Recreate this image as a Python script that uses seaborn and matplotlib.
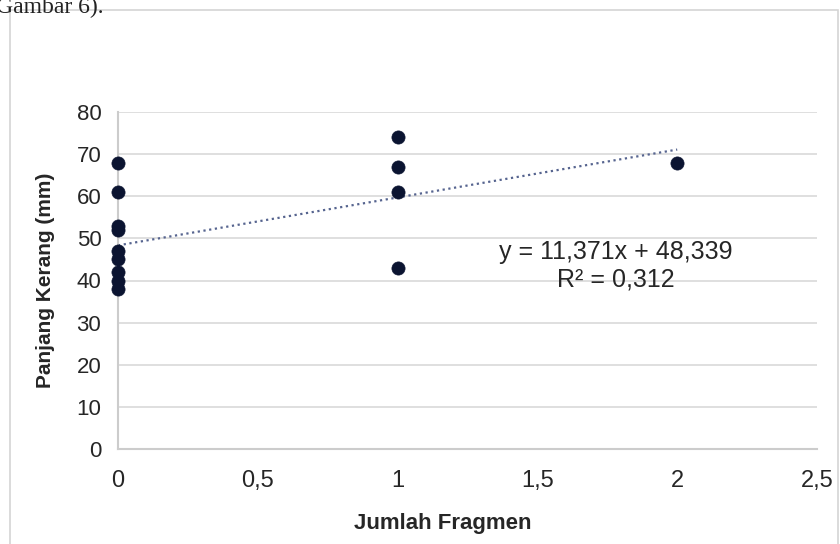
import numpy as np
import pandas as pd
import seaborn as sns
import matplotlib
matplotlib.use('Agg')
import matplotlib.pyplot as plt
from matplotlib.patches import Rectangle

# data
fragmen = [0, 0, 0, 0, 0, 0, 0, 0, 0, 1, 1, 1, 1, 2]
panjang = [68, 61, 53, 52, 47, 45, 42, 40, 38, 74, 67, 61, 43, 68]
slope = 11.371
intercept = 48.339
r2 = 0.312
xticks = [0, 0.5, 1, 1.5, 2, 2.5]
yticks = [0, 10, 20, 30, 40, 50, 60, 70, 80]

df = pd.DataFrame({'Jumlah Fragmen': fragmen, 'Panjang Kerang (mm)': panjang})
trend_x = np.array([0, 2])
trend = pd.DataFrame({'x': trend_x, 'y': intercept + slope * trend_x})

sns.set_theme(style='white')
plt.rcParams['font.family'] = ['Liberation Sans', 'DejaVu Sans']

fig = plt.figure(figsize=(8.4, 5.44), dpi=100)
ax = fig.add_axes([118 / 840, 1 - 449 / 544, (817 - 118) / 840, (449 - 112) / 544])

# frame of the document picture
fig.patches.append(Rectangle((10 / 840, -0.05), 828 / 840, 1 - 10 / 544 + 0.05,
                             transform=fig.transFigure, fill=False,
                             edgecolor='#d4d4d4', linewidth=1.2))
fig.text(-0.005, 1.005, 'Gambar 6).', family='Liberation Serif', fontsize=17,
         ha='left', va='top', color='#222222')

for y in yticks[1:]:
    ax.axhline(y, color='#d9d9d9', linewidth=1.2, zorder=0)

sns.lineplot(data=trend, x='x', y='y', ax=ax, color='#56648f', linewidth=1.6,
             linestyle=(0, (1, 1.6)), zorder=2)
sns.scatterplot(data=df, x='Jumlah Fragmen', y='Panjang Kerang (mm)', ax=ax,
                color='#0b1431', s=90, edgecolor='#0b1431', linewidth=0.5,
                zorder=3, clip_on=False)

ax.set_xlim(0, 2.5)
ax.set_ylim(0, 80)
ax.set_xticks(xticks)
ax.set_yticks(yticks)
ax.set_xticklabels([str(t).replace('.', ',') for t in xticks], fontsize=17, color='#262626')
ax.set_yticklabels([str(t) for t in yticks], fontsize=16, color='#262626')
ax.tick_params(axis='both', length=5, width=1, color='#cccccc')
ax.tick_params(axis='x', direction='out', pad=10)
ax.tick_params(axis='y', direction='out', pad=7)

for side in ['top', 'right']:
    ax.spines[side].set_visible(False)
for side in ['left', 'bottom']:
    ax.spines[side].set_color('#cccccc')
    ax.spines[side].set_linewidth(1.5)

ax.set_xlabel('Jumlah Fragmen', fontsize=16, fontweight='bold', color='#262626')
ax.xaxis.set_label_coords(0.465, -0.19)
ax.set_ylabel('Panjang Kerang (mm)', fontsize=15, fontweight='bold', color='#262626')
ax.yaxis.set_label_coords(-0.09, 0.5)

ax.text(1.78, 46.8, 'y = 11,371x + 48,339', fontsize=18, ha='center', va='center', color='#262626')
ax.text(1.78, 40.2, 'R² = 0,312', fontsize=18, ha='center', va='center', color='#262626')

fig.savefig('out.png', dpi=100, facecolor='white')
